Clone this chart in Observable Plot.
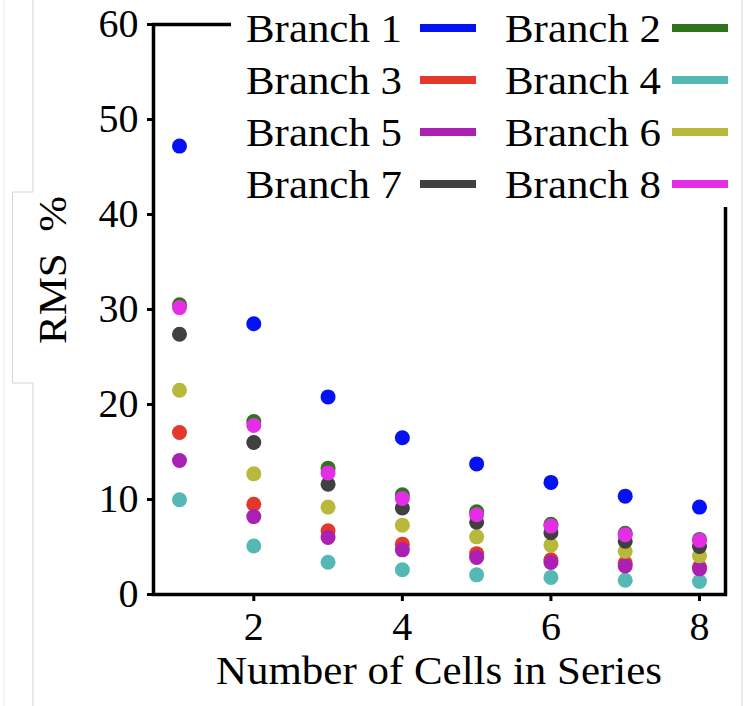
<!DOCTYPE html>
<html>
<head>
<meta charset="utf-8">
<script src="https://cdn.jsdelivr.net/npm/d3@7"></script>
<script src="https://cdn.jsdelivr.net/npm/@observablehq/plot@0.6"></script>
<style>
  html, body { margin: 0; padding: 0; background: #fff; }
  #chart svg { display: block; }
  #chart svg text { font-family: "Liberation Serif", "DejaVu Serif", serif !important; }
</style>
</head>
<body>
<div id="chart"></div>
<script>
// ---- data ----
const cells = [1, 2, 3, 4, 5, 6, 7, 8];
const branchNames = ["Branch 1", "Branch 2", "Branch 3", "Branch 4", "Branch 5", "Branch 6", "Branch 7", "Branch 8"];
const branchColors = ["#0511f5", "#2f731c", "#e3382a", "#55b8b5", "#a920b3", "#b8b83a", "#404040", "#e42ee6"];
const branch1 = [47.2, 28.5, 20.8, 16.5, 13.75, 11.8, 10.35, 9.2];
const branch2 = [30.5, 18.2, 13.3, 10.5, 8.7, 7.4, 6.45, 5.8];
const branch3 = [17.05, 9.5, 6.7, 5.3, 4.3, 3.65, 3.3, 2.9];
const branch4 = [9.97, 5.1, 3.4, 2.6, 2.07, 1.8, 1.5, 1.37];
const branch5 = [14.1, 8.2, 6.0, 4.7, 3.9, 3.37, 3.0, 2.7];
const branch6 = [21.5, 12.7, 9.2, 7.3, 6.07, 5.2, 4.56, 4.07];
const branch7 = [27.4, 16.0, 11.6, 9.1, 7.6, 6.5, 5.6, 5.05];
const branch8 = [30.2, 17.8, 12.8, 10.1, 8.4, 7.2, 6.3, 5.7];
const yTicks = [0, 10, 20, 30, 40, 50, 60];
const xTicks = [2, 4, 6, 8];
const xLabel = "Number of Cells in Series";
const yLabel = "RMS  %";

const series = [branch1, branch2, branch3, branch4, branch5, branch6, branch7, branch8];
const rows = [];
series.forEach((vals, i) => vals.forEach((v, j) => rows.push({branch: branchNames[i], x: cells[j], y: v})));

const FONT = "Liberation Serif, DejaVu Serif, serif";
const FS = 40;
const W = 744, H = 706;

const plot = Plot.plot({
  width: W,
  height: H,
  marginLeft: 153,
  marginRight: 19,
  marginTop: 24,
  marginBottom: 112,
  style: {fontFamily: FONT, fontSize: FS + "px", background: "#fff", color: "#000"},
  x: {domain: [0.65, 8.35], label: null},
  y: {domain: [0, 60], label: null},
  color: {domain: branchNames, range: branchColors},
  marks: [
    Plot.axisX({ticks: xTicks, tickSize: 7, tickPadding: 10, strokeWidth: 3, fontSize: FS, label: null}),
    Plot.axisY({ticks: yTicks, tickSize: 6, tickPadding: 9, strokeWidth: 3, fontSize: FS, label: null}),
    Plot.dot(rows, {x: "x", y: "y", fill: "branch", r: 7.5, stroke: "none"}),
    Plot.frame({stroke: "#000", strokeWidth: 3.5})
  ]
});

document.getElementById("chart").appendChild(plot);

const svg = d3.select(plot);

// faint page border lines (from screenshot)
const g0 = svg.insert("g", ":first-child").attr("fill", "none");
g0.append("line").attr("x1", 4).attr("x2", 4).attr("y1", 0).attr("y2", H).attr("stroke", "#ececec").attr("stroke-width", 1);
g0.append("path").attr("d", `M33,0 V192 H12.5 V383 H33 V${H}`).attr("stroke", "#d4d4d4").attr("stroke-width", 1);
g0.append("line").attr("x1", 742).attr("x2", 742).attr("y1", 0).attr("y2", H).attr("stroke", "#d4d4d4").attr("stroke-width", 1);

// axis labels
svg.append("text")
  .attr("transform", "translate(66,270) rotate(-90)")
  .attr("text-anchor", "middle")
  .attr("font-family", FONT).attr("font-size", FS)
  .attr("textLength", 148).attr("lengthAdjust", "spacingAndGlyphs")
  .attr("fill", "#000")
  .attr("xml:space", "preserve")
  .style("white-space", "pre")
  .text(yLabel);
svg.append("text")
  .attr("x", 439).attr("y", 684)
  .attr("text-anchor", "middle")
  .attr("font-family", FONT).attr("font-size", FS)
  .attr("textLength", 446).attr("lengthAdjust", "spacingAndGlyphs")
  .attr("fill", "#000")
  .text(xLabel);

// legend
const lg = svg.append("g");
lg.append("rect").attr("x", 231).attr("y", 0).attr("width", 506).attr("height", 207).attr("fill", "#fff");
branchNames.forEach((name, i) => {
  const col = i % 2, row = Math.floor(i / 2);
  const cy = 28 + 52 * row;
  const textEnd = col === 0 ? 402 : 661;
  const h0 = col === 0 ? 420 : 672;
  lg.append("text")
    .attr("x", textEnd).attr("y", cy + 14)
    .attr("text-anchor", "end")
    .attr("font-family", FONT).attr("font-size", FS)
    .attr("textLength", 156).attr("lengthAdjust", "spacingAndGlyphs")
    .attr("fill", "#000")
    .text(name);
  lg.append("line")
    .attr("x1", h0).attr("x2", h0 + 56)
    .attr("y1", cy).attr("y2", cy)
    .attr("stroke", branchColors[i]).attr("stroke-width", 8);
});
</script>
</body>
</html>
